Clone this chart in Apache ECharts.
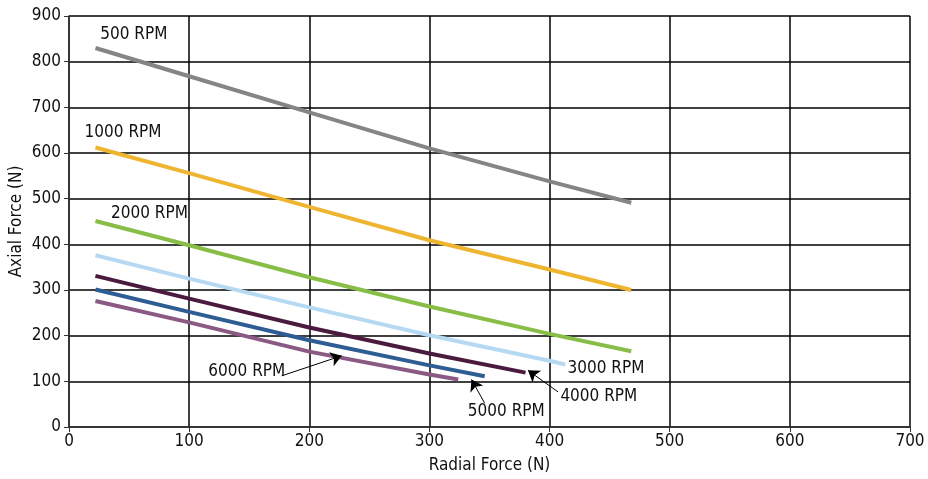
<!DOCTYPE html>
<html><head><meta charset="utf-8">
<script src="https://cdn.jsdelivr.net/npm/echarts@6/dist/echarts.min.js"></script>
<style>html,body{margin:0;padding:0;background:#fff}#c{width:928px;height:479px}</style>
</head><body><div id="c"></div>
<script>
const seriesNames = ['500 RPM','1000 RPM','2000 RPM','3000 RPM','4000 RPM','5000 RPM','6000 RPM'];
const rpm500  = [[22,830],[100,768],[200,689],[300,610],[400,538],[468,491]];
const rpm1000 = [[22,612],[100,556],[200,482],[300,409],[400,345],[468,300]];
const rpm2000 = [[22,451],[100,398],[200,328],[300,264],[400,204],[468,166]];
const rpm3000 = [[22,376],[100,325],[200,262],[300,201],[400,145],[413,137]];
const rpm4000 = [[22,331],[100,281],[200,218],[300,161],[380,119]];
const rpm5000 = [[22,301],[100,252],[200,190],[300,135],[346,111]];
const rpm6000 = [[22,276],[100,229],[200,165],[300,115],[324,104]];
const xTicks = [0,100,200,300,400,500,600,700];
const yTicks = [0,100,200,300,400,500,600,700,800,900];

// annotation positions (data coords) for curve labels and arrows
const labelPos = [[26,860],[13,644],[35,468],[415,129],[409,67],[332,34],[116,122]];
const arrows = [null,null,null,null,
  [[407,77],[382,124]],
  [[346,52],[335,104]],
  [[177,112],[227,156]]];

const colors = ['#858585','#eeb531','#88be47','#b6d9f3','#4a1b3e','#2e5d93','#8a5a84'];
const dataSets = [rpm500,rpm1000,rpm2000,rpm3000,rpm4000,rpm5000,rpm6000];
const FONT = '"Liberation Sans Narrow","DejaVu Sans Condensed","Roboto Condensed",sans-serif';

const series = dataSets.map((d,i)=>{
  const s = {
    name: seriesNames[i], type:'line', data:d, showSymbol:false, symbol:'none',
    lineStyle:{color:colors[i], width:4}, z:3, animation:false,
    markPoint:{
      symbol:'circle', symbolSize:0, animation:false,
      data:[{coord:labelPos[i], value:seriesNames[i]}],
      label:{show:true, formatter:seriesNames[i], position:'right', distance:0,
        color:'#111', fontSize:17, fontFamily:FONT}
    }
  };
  if (arrows[i]) {
    s.markLine = {
      silent:true, animation:false, symbol:['none','arrow'], symbolSize:11,
      lineStyle:{color:'#000', width:1, type:'solid'},
      itemStyle:{color:'#000'},
      label:{show:false},
      data:[[{coord:arrows[i][0]},{coord:arrows[i][1]}]]
    };
  }
  return s;
});

const chart = echarts.init(document.getElementById('c'));
chart.setOption({
  animation:false,
  backgroundColor:'#fff',
  grid:{left:69, right:18, top:16, bottom:52, containLabel:false, outerBoundsMode:'none'},
  xAxis:{type:'value', min:xTicks[0], max:xTicks[xTicks.length-1], interval:100,
    name:'Radial Force (N)', nameLocation:'middle', nameGap:30,
    nameTextStyle:{fontSize:17, color:'#111', fontFamily:FONT},
    axisLine:{show:true, lineStyle:{color:'#333', width:1.5}},
    axisTick:{show:true, length:5, lineStyle:{color:'#333'}},
    axisLabel:{fontSize:17, color:'#111', fontFamily:FONT, margin:6},
    splitLine:{show:true, lineStyle:{color:'#000', width:1.5}}},
  yAxis:{type:'value', min:yTicks[0], max:yTicks[yTicks.length-1], interval:100,
    name:'Axial Force (N)', nameLocation:'middle', nameGap:44, nameMoveOverlap:false,
    nameTextStyle:{fontSize:17, color:'#111', fontFamily:FONT},
    axisLine:{show:true, lineStyle:{color:'#333', width:1.5}},
    axisTick:{show:true, length:5, lineStyle:{color:'#333'}},
    axisLabel:{fontSize:17, color:'#111', fontFamily:FONT, margin:8},
    splitLine:{show:true, lineStyle:{color:'#000', width:1.5}}},
  series: series
});
</script></body></html>
